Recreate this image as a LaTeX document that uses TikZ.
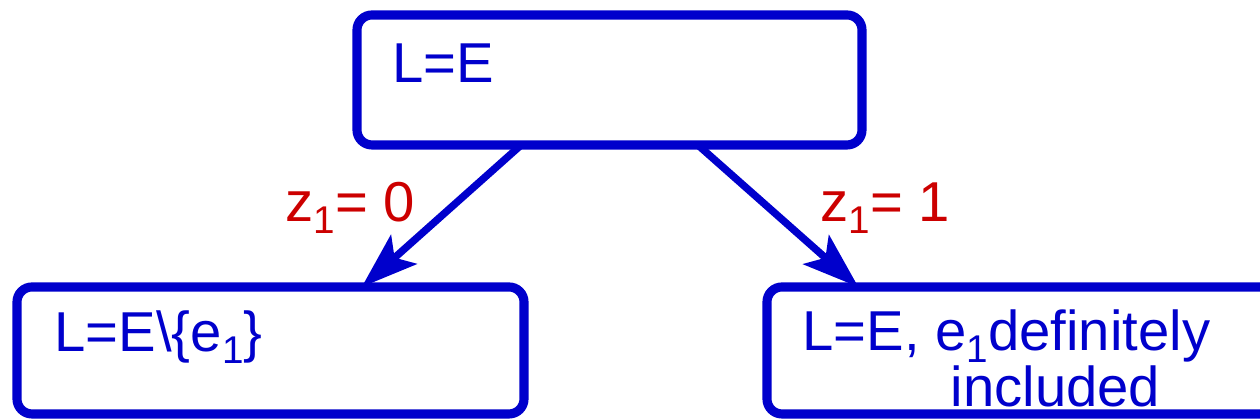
\documentclass[tikz,border=0pt]{standalone}
\usepackage{fontspec}
\setmainfont{Liberation Sans}
\usetikzlibrary{arrows.meta,calc}
\definecolor{boxblue}{RGB}{0,0,204}
\definecolor{labred}{RGB}{204,0,0}
\newcommand{\mysub}[1]{\raisebox{-0.2em}{\fontsize{11}{12}\selectfont #1}}
\begin{document}
\begin{tikzpicture}[
  box/.style={draw=boxblue, line width=2.6pt, rounded corners=0.15cm, fill=white, inner sep=0pt, outer sep=0pt, anchor=north west},
  boxtext/.style={text=boxblue, inner sep=0pt, anchor=base west, font=\fontsize{16}{19}\selectfont},
  edgelabel/.style={text=labred, inner sep=0pt, anchor=base west, font=\fontsize{16}{19}\selectfont},
  conn/.style={draw=boxblue, line width=2.1pt, -{Stealth[length=16pt,width=11pt,inset=3.5pt]}}
]
\useasboundingbox (0,0) rectangle (12.6,4.2);
\clip (0,0) rectangle (12.6,4.2);
% boxes
\node[box, minimum width=5.05cm, minimum height=1.30cm] (top) at (3.57,4.05) {};
\node[box, minimum width=5.07cm, minimum height=1.27cm] (left) at (0.17,1.33) {};
\node[box, minimum width=5.16cm, minimum height=1.27cm] (right) at (7.67,1.33) {};
% texts
\node[boxtext] (ttop) at (3.92,3.37) {L=E};
\node[boxtext] (tleft) at (0.54,0.68) {L=E\textbackslash\{e\mysub{1}\}};
\node[boxtext] (tright) at (8.02,0.69) {L=E, e\mysub{1}definitely};
\node[boxtext] (tright2) at (9.50,0.13) {included};
% connectors
\coordinate (s1) at ($(top.south west)!0.325!(top.south east)$);
\coordinate (s2) at ($(top.south west)!0.675!(top.south east)$);
\coordinate (e1) at ($(left.north west)!0.68!(left.north east)$);
\coordinate (e2) at ($(right.north west)!0.177!(right.north east)$);
\draw[conn] (s1) -- (e1);
\draw[conn] (s2) -- (e2);
% labels
\node[edgelabel] (l0) at (2.85,1.98) {z\mysub{1}= 0};
\node[edgelabel] (l1) at (8.20,1.98) {z\mysub{1}= 1};
\end{tikzpicture}
\end{document}
